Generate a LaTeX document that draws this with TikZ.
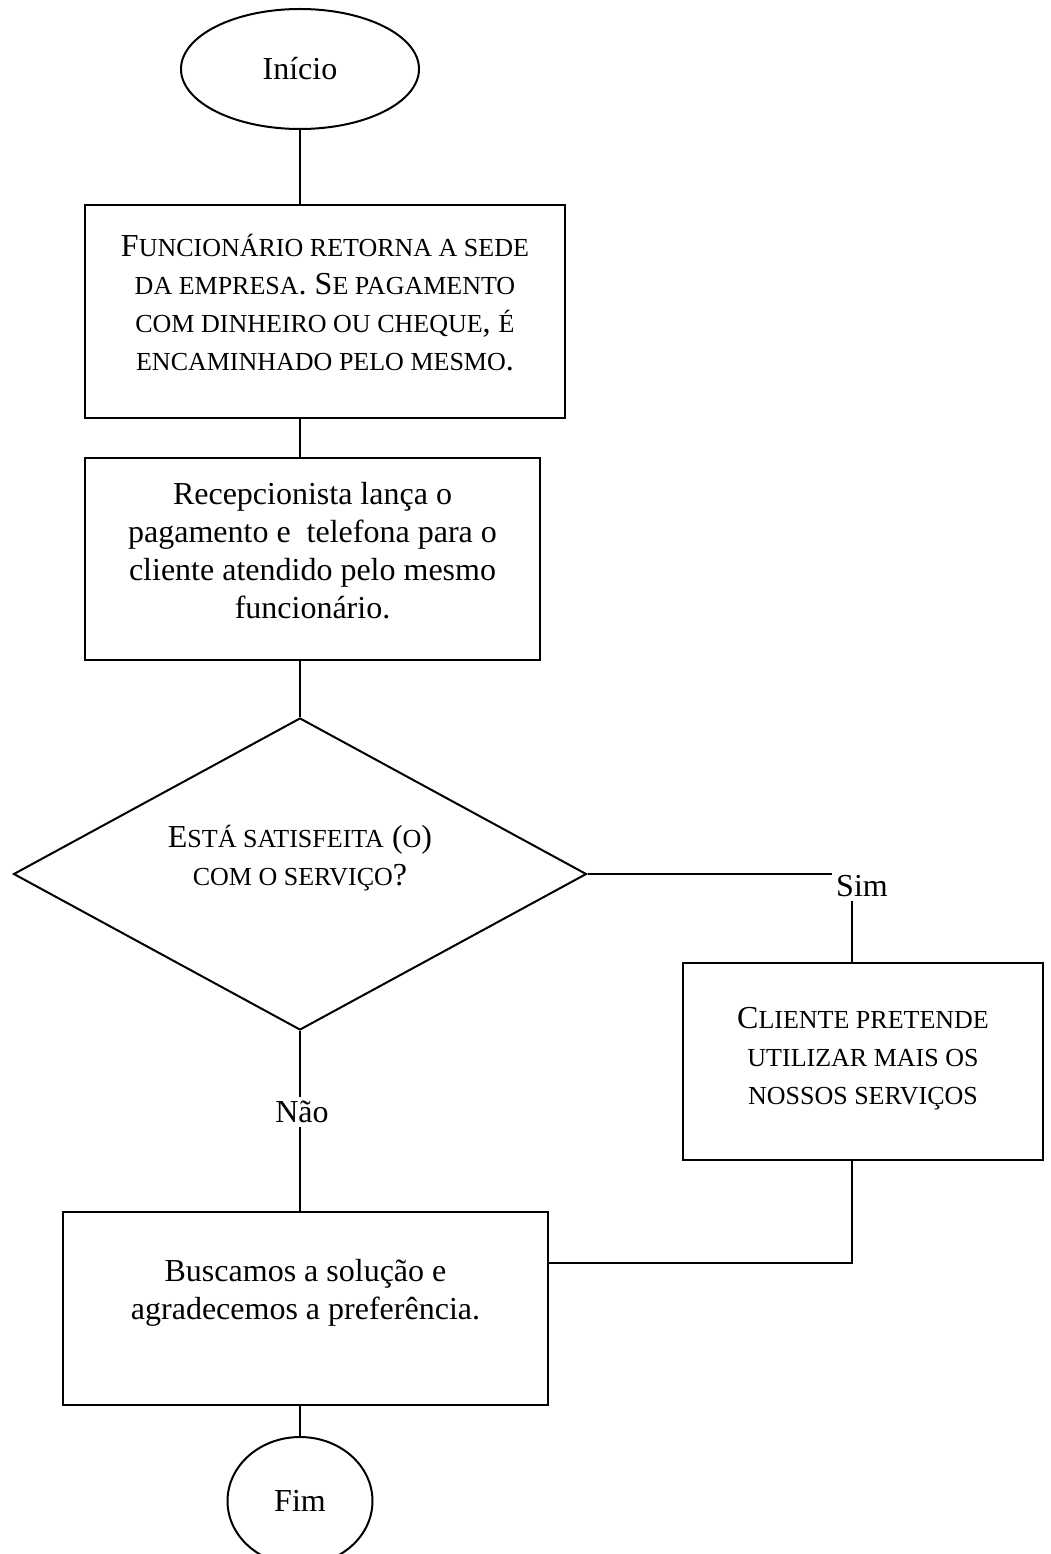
\documentclass[tikz,border=0pt]{standalone}
\usepackage{fontspec}
\setmainfont{Liberation Serif}
\usetikzlibrary{shapes.geometric}
\newcommand{\pequena}[1]{{\fontsize{26}{38}\selectfont #1}}

\begin{document}
\begin{tikzpicture}[x=1pt,y=-1pt,line width=2pt,
  every node/.style={align=center,font=\fontsize{32}{38}\selectfont},
  caixa/.style={draw,rectangle,inner sep=0pt},
  decisao/.style={draw,diamond,aspect=1.83,inner sep=0pt,minimum width=573pt,minimum height=312pt},
  terminal/.style={draw,ellipse,inner sep=0pt}]
      \clip (0,0) rectangle (1050,1554);
      \node[terminal,minimum width=238pt,minimum height=120pt] (ini) at (300,69) {Início};
      \node[caixa,minimum width=480pt,minimum height=213pt] (func) at (325,311.5)
        {F\pequena{UNCIONÁRIO RETORNA A SEDE}\\\pequena{DA EMPRESA}. S\pequena{E PAGAMENTO}\\\pequena{COM DINHEIRO OU CHEQUE}, \pequena{É}\\\pequena{ENCAMINHADO PELO MESMO}.\\[-20pt]\mbox{}};
      \node[caixa,minimum width=455pt,minimum height=202pt] (rec) at (312.5,559)
        {Recepcionista lança o\\pagamento e\ \ telefona para o\\cliente atendido pelo mesmo\\funcionário.\\[-20pt]\mbox{}};
      \node[decisao] (sat) at (300,874) {E\pequena{STÁ SATISFEITA} (\pequena{O})\\\pequena{COM O SERVIÇO}?\\\mbox{}};
      \node (sim) at (862,886) {Sim};
      \node[caixa,minimum width=360pt,minimum height=197pt] (cli) at (863,1061.5)
        {C\pequena{LIENTE PRETENDE}\\\pequena{UTILIZAR MAIS OS}\\\pequena{NOSSOS SERVIÇOS}\\[-26pt]\mbox{}};
      \node (nao) at (302,1112) {Não};
      \node[caixa,minimum width=485pt,minimum height=193pt] (bus) at (305.5,1308.5)
        {Buscamos a solução e\\agradecemos a preferência.\\\mbox{}};
      \node[terminal,minimum width=145pt,minimum height=128pt] (fim) at (300,1501) {Fim};
      \draw (ini.south) -- (ini.south |- func.north);
      \draw (func.south -| ini.south) -- (rec.north -| ini.south);
      \draw (rec.south -| sat.north) -- (sat.north);
      \draw (sat.east) -- (sim.west |- sat.east);
      \draw ([xshift=-10pt]sim.south) -- ([xshift=-10pt]sim.south |- cli.north);
      \draw ([xshift=-11pt]cli.south) |- ([yshift=46pt]bus.east);
      \draw (sat.south) -- (nao.north -| sat.south);
      \draw (nao.south -| sat.south) -- (bus.north -| sat.south);
      \draw (bus.south -| fim.north) -- (fim.north);
    \end{tikzpicture}
\end{document}
